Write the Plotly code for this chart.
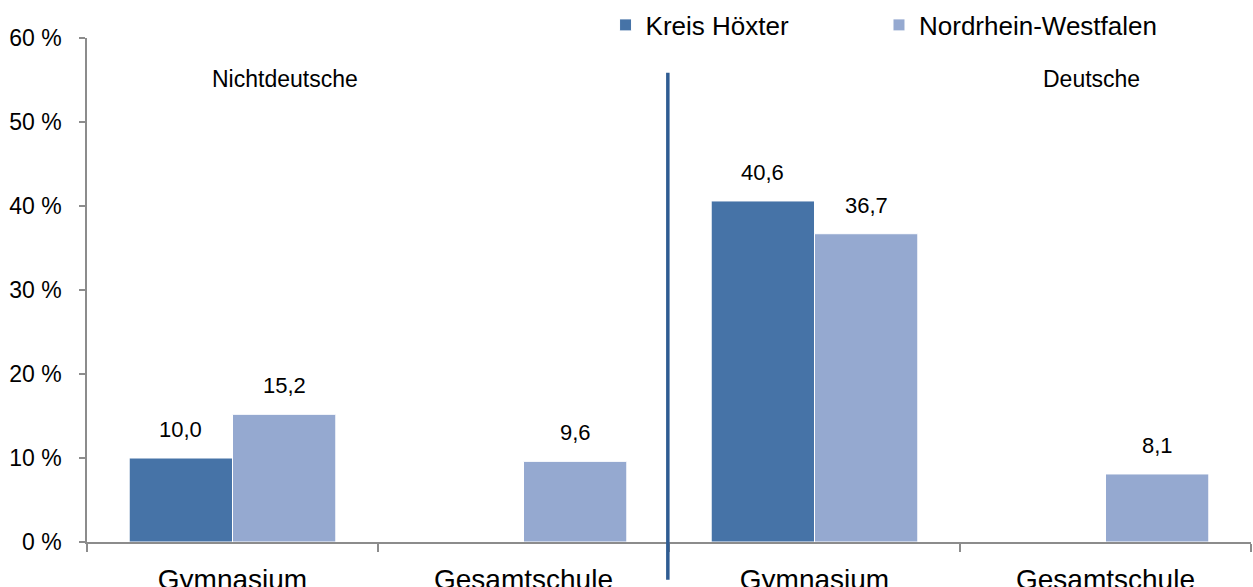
import plotly.graph_objects as go

categories = ["Gymnasium", "Gesamtschule", "Gymnasium", "Gesamtschule"]
kreis_hoexter = [10.0, None, 40.6, None]
nrw = [15.2, 9.6, 36.7, 8.1]
series_names = ["Kreis Höxter", "Nordrhein-Westfalen"]
group_labels = ["Nichtdeutsche", "Deutsche"]
y_ticks = [0, 10, 20, 30, 40, 50, 60]
y_ticktext = [f"{v} %" for v in y_ticks]

FONT = "Liberation Sans"
C_KH = "#4673A7"
C_NRW = "#95A9D0"
AXIS = "#8C8C8C"

xpos = list(range(len(categories)))

fig = go.Figure()
fig.add_trace(go.Bar(x=xpos, y=kreis_hoexter, name=series_names[0], legend="legend",
                     marker=dict(color=C_KH, line=dict(color="white", width=1))))
fig.add_trace(go.Bar(x=xpos, y=nrw, name=series_names[1], legend="legend2",
                     marker=dict(color=C_NRW, line=dict(color="white", width=1))))

# data labels above the bars
for vals, off in ((kreis_hoexter, -0.18), (nrw, 0.18)):
    for xi, v in zip(xpos, vals):
        if v is None:
            continue
        fig.add_annotation(x=xi + off, y=v, xref="x", yref="y",
                           text=f"{v:.1f}".replace(".", ","), showarrow=False,
                           yanchor="bottom", yshift=14,
                           font=dict(family=FONT, size=22, color="black"))

fig.add_annotation(x=0.17, y=0.919, xref="paper", yref="paper", text=group_labels[0],
                   xanchor="center", yanchor="middle",
                   showarrow=False, font=dict(family=FONT, size=23, color="black"))
fig.add_annotation(x=0.863, y=0.919, xref="paper", yref="paper", text=group_labels[1],
                   xanchor="center", yanchor="middle",
                   showarrow=False, font=dict(family=FONT, size=23, color="black"))

fig.add_shape(type="line", xref="paper", yref="paper", x0=0.499, x1=0.499,
              y0=-0.075, y1=0.931, line=dict(color="#2F5C92", width=3.5))

legend_common = dict(orientation="h", xanchor="left", y=1.0238, yanchor="middle",
                     font=dict(family=FONT, size=26, color="black"),
                     itemclick=False, bgcolor="rgba(0,0,0,0)")

fig.update_layout(
    width=1253, height=587,
    margin=dict(l=87, r=2, t=37, b=45),
    plot_bgcolor="white", paper_bgcolor="white",
    barmode="group", bargap=0.29, bargroupgap=0,
    font=dict(family=FONT, color="black"),
    showlegend=True,
    legend=dict(x=0.4455, **legend_common),
    legend2=dict(x=0.6804, **legend_common),
    xaxis=dict(range=[-0.5, 3.5], tickmode="array", tickvals=xpos, ticktext=categories,
               ticks="", showgrid=False, showline=True, linecolor=AXIS, linewidth=1.5,
               zeroline=False, tickfont=dict(family=FONT, size=28, color="black"),
               ticklabelstandoff=12, automargin=False,
               minor=dict(tickmode="array", tickvals=[-0.5, 0.5, 1.5, 2.5, 3.5],
                          ticks="outside", ticklen=8, tickcolor=AXIS, tickwidth=1.5, showgrid=False)),
    yaxis=dict(range=[0, 60], tickmode="array", tickvals=y_ticks, ticktext=y_ticktext,
               ticks="outside", ticklen=6, tickcolor=AXIS, tickwidth=1.5,
               showgrid=False, showline=True, linecolor=AXIS, linewidth=1.5, zeroline=False,
               tickfont=dict(family=FONT, size=23, color="black"),
               ticklabelstandoff=13, automargin=False),
)

fig.write_html("out.html", config={"displayModeBar": False},
               post_script="document.body.style.margin='0';document.body.style.overflow='hidden';")
